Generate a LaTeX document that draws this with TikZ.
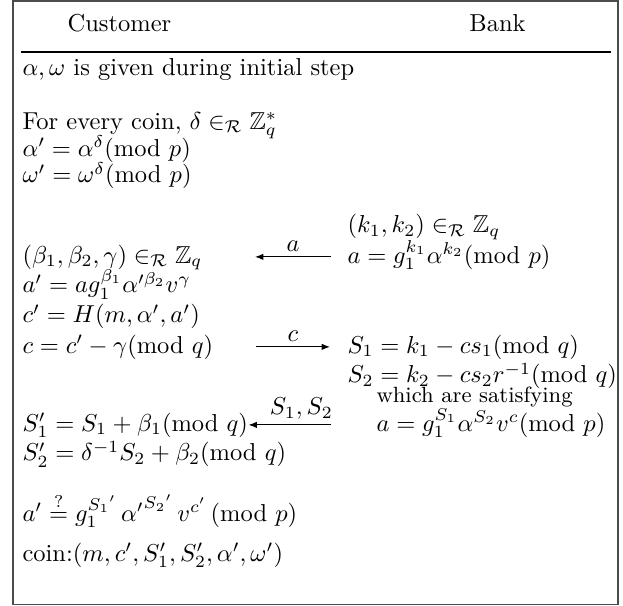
\documentclass[tikz,border=0pt]{standalone}
\usepackage{amsmath,amssymb}
\usepackage{tikz}
\usetikzlibrary{arrows.meta}
\newcommand{\md}[1]{(\mathrm{mod}\ #1)}
\newcommand{\inR}{\in_{\mathcal{R}}}

\begin{document}
\begin{tikzpicture}[x=1mm,y=1mm,>={Latex[length=3.4pt,width=2.6pt]},
  txt/.style={anchor=base west,inner sep=0pt},
  msg/.style={->,line width=0.4pt},
  lab/.style={anchor=south,inner sep=2pt}]
\useasboundingbox (0,0) rectangle (89.37,-86.93);
% frame and header
\draw[black!70,line width=0.6pt] (1.86,-0.15) rectangle (88.65,-86.72);
\node[anchor=base] (cust) at (17.14,-4.45) {Customer};
\node[anchor=base] (bank) at (71.37,-4.45) {Bank};
\draw[line width=0.5pt] (3.01,-7.46) -- (87.6,-7.46);
% customer side
\node[txt] (init) at (3.16,-10.90) {$\alpha,\omega$ is given during initial step};
\node[txt] (delta) at (3.16,-18.51) {For every coin, $\delta\inR\mathbb{Z}_q^*$};
\node[txt] (alp) at (3.16,-22.38) {$\alpha'=\alpha^{\delta}\md{p}$};
\node[txt] (omg) at (3.16,-26.25) {$\omega'=\omega^{\delta}\md{p}$};
\node[txt] (beta) at (3.16,-37.73) {$(\beta_1,\beta_2,\gamma)\inR\mathbb{Z}_q$};
\node[txt] (ap) at (3.16,-42.03) {$a'=ag_1^{\beta_1}\alpha'^{\beta_2}v^{\gamma}$};
\node[txt] (cp) at (3.16,-46.33) {$c'=H(m,\alpha',a')$};
\node[txt] (cc) at (3.16,-50.64) {$c=c'-\gamma\md{q}$};
\node[txt] (sp1) at (3.16,-61.83) {$S_1'=S_1+\beta_1\md{q}$};
\node[txt] (sp2) at (3.16,-66.13) {$S_2'=\delta^{-1}S_2+\beta_2\md{q}$};
\node[txt] (chk) at (3.16,-74.74) {$a'\stackrel{?}{=}g_1^{{S_1}'}\,{\alpha'}^{{S_2}'}\,v^{c'}\,\md{p}$};
\node[txt] (coin) at (3.16,-80.48) {coin:$(m,c',S_1',S_2',\alpha',\omega')$};
% bank side
\node[txt] (kk) at (49.78,-33.42) {$(k_1,k_2)\inR\mathbb{Z}_q$};
\node[txt] (aa) at (49.78,-37.73) {$a=g_1^{k_1}\alpha^{k_2}\md{p}$};
\node[txt] (s1) at (49.78,-50.64) {$S_1=k_1-cs_1\md{q}$};
\node[txt] (s2) at (49.78,-54.94) {$S_2=k_2-cs_2r^{-1}\md{q}$};
\node[txt,font=\small] (sat) at (53.94,-57.81) {which are satisfying};
\node[txt] (ver) at (53.94,-61.83) {$a=g_1^{S_1}\alpha^{S_2}v^{c}\md{p}$};
% messages
\coordinate (ea) at (47.48,-36.85);
\coordinate (wa) at (36.58,-36.85);
\coordinate (wc) at (36.72,-49.76);
\coordinate (ec) at (47.34,-49.76);
\coordinate (es) at (47.48,-60.95);
\draw[msg] (ea) -- node[lab] {$a$} (wa);
\draw[msg] (wc) -- node[lab] {$c$} (ec);
\draw[msg] (es) -- node[lab,pos=0.36] {$S_1,S_2$} (sp1.east |- es);
\end{tikzpicture}
\end{document}
